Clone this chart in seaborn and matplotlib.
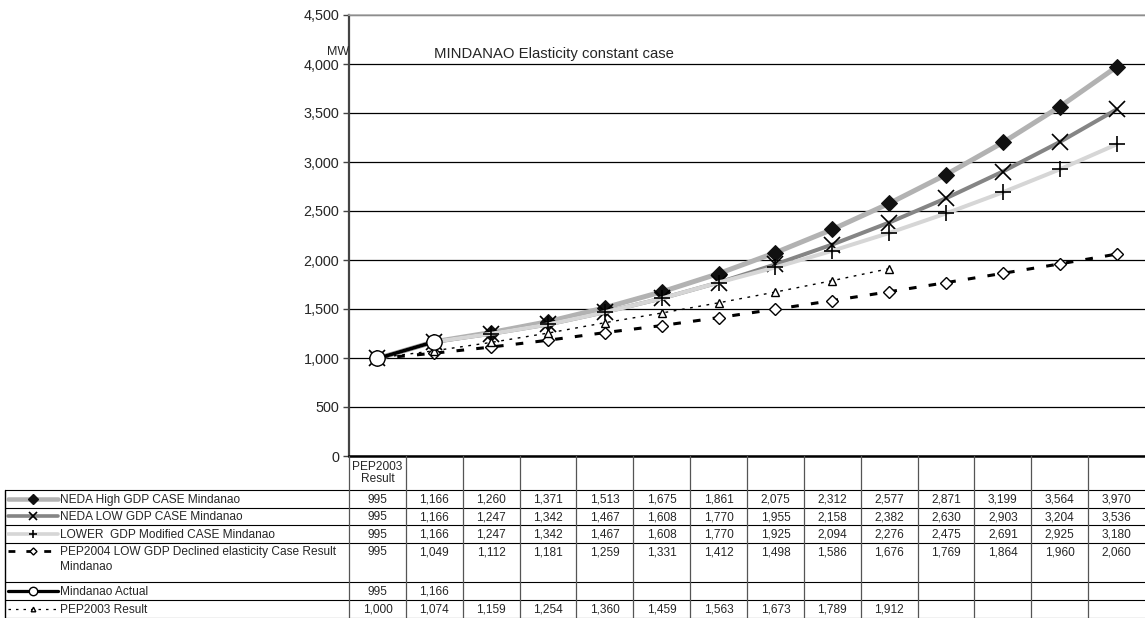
import numpy as np
import pandas as pd
import matplotlib
matplotlib.use("Agg")
import matplotlib.pyplot as plt
import seaborn as sns
from matplotlib.ticker import FuncFormatter, FixedLocator

# ---------------- data ----------------
columns = ["PEP2003\nResult"] + [""] * 13
neda_high = [995, 1166, 1260, 1371, 1513, 1675, 1861, 2075, 2312, 2577, 2871, 3199, 3564, 3970]
neda_low = [995, 1166, 1247, 1342, 1467, 1608, 1770, 1955, 2158, 2382, 2630, 2903, 3204, 3536]
lower_mod = [995, 1166, 1247, 1342, 1467, 1608, 1770, 1925, 2094, 2276, 2475, 2691, 2925, 3180]
pep2004 = [995, 1049, 1112, 1181, 1259, 1331, 1412, 1498, 1586, 1676, 1769, 1864, 1960, 2060]
actual = [995, 1166] + [np.nan] * 12
pep2003 = [1000, 1074, 1159, 1254, 1360, 1459, 1563, 1673, 1789, 1912] + [np.nan] * 4

series_names = [
    "NEDA High GDP CASE Mindanao",
    "NEDA LOW GDP CASE Mindanao",
    "LOWER  GDP Modified CASE Mindanao",
    "PEP2004 LOW GDP Declined elasticity Case Result\nMindanao",
    "Mindanao Actual",
    "PEP2003 Result",
]
series_values = [neda_high, neda_low, lower_mod, pep2004, actual, pep2003]
title = "MINDANAO Elasticity constant case"
unit_label = "MW"
y_ticks = [0, 500, 1000, 1500, 2000, 2500, 3000, 3500, 4000, 4500]

# ---------------- styles ----------------
styles = [
    dict(color="#b2b2b2", linewidth=3.6, linestyle="-", marker="D", markersize=8.5,
         markerfacecolor="#111111", markeredgecolor="#111111", zorder=3),
    dict(color="#858585", linewidth=2.9, linestyle="-", marker="x", markersize=11,
         markeredgewidth=1.2, markerfacecolor="none", markeredgecolor="black", zorder=4),
    dict(color="#d6d6d6", linewidth=2.9, linestyle="-", marker="+", markersize=11,
         markeredgewidth=1.2, markeredgecolor="black", zorder=5),
    dict(color="black", linewidth=2.2, linestyle=(0, (2.5, 4)), marker="D", markersize=6.5,
         markerfacecolor="white", markeredgecolor="black", markeredgewidth=1.0, zorder=6),
    dict(color="black", linewidth=2.6, linestyle="-", marker="o", markersize=11,
         markerfacecolor="white", markeredgecolor="black", markeredgewidth=1.0, zorder=8),
    dict(color="black", linewidth=1.0, linestyle=(0, (2, 4)), marker="^", markersize=6,
         markerfacecolor="white", markeredgecolor="black", markeredgewidth=1.0, zorder=7),
]

sns.set_style("white")
plt.rcParams["font.family"] = ["Liberation Sans", "DejaVu Sans"]

W, H = 1145, 618
fig = plt.figure(figsize=(W / 100, H / 100), dpi=100)

ax_left, ax_right, ax_top, ax_bottom = 349, 1145, 15, 456
ax = fig.add_axes([ax_left / W, 1 - ax_bottom / H, (ax_right - ax_left) / W, (ax_bottom - ax_top) / H])

x = np.arange(len(columns))
for name, vals, st in zip(series_names, series_values, styles):
    df = pd.DataFrame({"x": x, "y": vals}).dropna()
    sns.lineplot(data=df, x="x", y="y", ax=ax, errorbar=None, **st)

ax.set_xlim(-0.5, len(columns) - 0.5)
ax.set_ylim(y_ticks[0], y_ticks[-1])
ax.yaxis.set_major_locator(FixedLocator(y_ticks))
ax.yaxis.set_major_formatter(FuncFormatter(lambda v, p: f"{int(v):,}"))
ax.set_xticks([])
ax.set_xlabel("")
ax.set_ylabel("")
ax.tick_params(axis="y", labelsize=10.4, length=4, width=1, color="#444444", pad=3, left=True)
ax.yaxis.grid(True, color="black", linewidth=0.9)
ax.set_axisbelow(True)
ax.spines["right"].set_visible(False)
ax.spines["top"].set_color("#aaaaaa")
ax.spines["top"].set_linewidth(1.2)
ax.spines["left"].set_color("#444444")
ax.spines["left"].set_linewidth(1.6)
ax.spines["bottom"].set_color("black")
ax.spines["bottom"].set_linewidth(1.8)

fig.text(327 / W, 1 - 52 / H, unit_label, fontsize=9, ha="left", va="center")
fig.text(434 / W, 1 - 54 / H, title, fontsize=10.7, ha="left", va="center")

# ---------------- data table ----------------
tab = fig.add_axes([ax_left / W, 0, (ax_right - ax_left) / W, (H - ax_bottom) / H])
tab.set_xlim(-0.5, len(columns) - 0.5)
tab.set_ylim(H, ax_bottom)
tab.axis("off")

col_w_px = (ax_right - ax_left) / len(columns)
def px2x(px):
    return -0.5 + (px - ax_left) / col_w_px

row_lines = [ax_bottom, 490, 507.5, 525, 542.5, 582, 600, 617.5]
row_tops = row_lines[1:-1]
fs = 8.6
line_gap = 14.5
left_px = 5
kw = dict(clip_on=False)
# horizontals
for yv in row_lines[1:]:
    tab.plot([px2x(left_px), len(columns) - 0.5], [yv, yv], color="black", lw=0.8, **kw)
# verticals
tab.plot([px2x(left_px)] * 2, [row_lines[1], H], color="black", lw=1.0, **kw)
for k in range(len(columns)):
    tab.plot([k - 0.5] * 2, [ax_bottom, H], color="#555555", lw=0.9, **kw)

# header
for k, c in enumerate(columns):
    if c:
        tab.text(k, (ax_bottom + row_lines[1]) / 2, c, ha="center", va="center", fontsize=fs,
                 linespacing=1.05, **kw)

# rows
for r, (name, vals, st) in enumerate(zip(series_names, series_values, styles)):
    ytop = row_tops[r]
    yline = ytop + 8.75
    ybase = yline + 4.2
    for k, v in enumerate(vals):
        if not np.isnan(v):
            tab.text(k, ybase, f"{int(v):,}", ha="center", va="baseline", fontsize=fs, **kw)
    for j, part in enumerate(name.split("\n")):
        tab.text(px2x(60), ybase + j * line_gap, part, ha="left", va="baseline",
                 fontsize=fs, **kw)
    # legend sample
    lst = dict(st)
    lst.pop("zorder", None)
    ms = lst.pop("markersize")
    lst["linewidth"] = lst["linewidth"] * 0.9
    tab.plot([px2x(8), px2x(58)], [yline, yline], clip_on=False,
             **{k2: v2 for k2, v2 in lst.items() if not k2.startswith("marker")})
    tab.plot([px2x(33)], [yline], clip_on=False, linestyle="none",
             marker=lst["marker"], markersize=ms * 0.55,
             markerfacecolor=lst.get("markerfacecolor", "black"),
             markeredgecolor=lst.get("markeredgecolor", "black"),
             markeredgewidth=lst.get("markeredgewidth", 1.0))

fig.savefig("out.png", dpi=100)
